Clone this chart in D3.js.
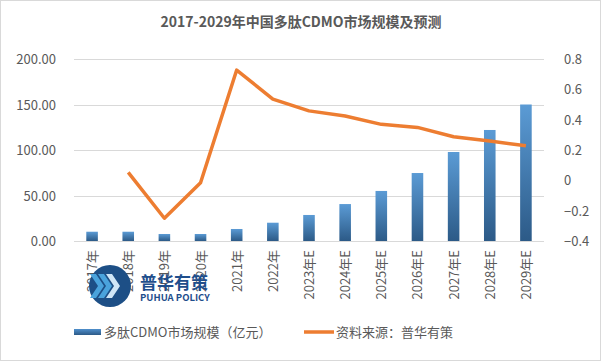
<!doctype html>
<html lang="zh">
<head>
<meta charset="UTF-8" />
<title>2017-2029年中国多肽CDMO市场规模及预测</title>
<script src="https://cdn.jsdelivr.net/npm/d3@7/dist/d3.min.js"></script>
<style>
  body { margin: 0; background: #fff; }
  text { font-family: "Noto Sans CJK SC", "Noto Sans", sans-serif; fill: #595959; }
</style>
</head>
<body>
<div id="chart"></div>
<script>
// chart data
var years = ["2017年", "2018年", "2019年", "2020年", "2021年", "2022年", "2023年E",
             "2024年E", "2025年E", "2026年E", "2027年E", "2028年E", "2029年E"];
var marketSize = [10.2, 10.2, 7.7, 7.7, 13.2, 20.1, 28.6, 40.6, 55, 74.7, 97.8, 122, 150];
var growthRate = [null, 0.053, -0.25, -0.016, 0.727, 0.536, 0.458, 0.424, 0.369, 0.349, 0.287, 0.259, 0.228];
var leftTicks = [0, 50, 100, 150, 200];
var rightTicks = [-0.4, -0.2, 0, 0.2, 0.4, 0.6, 0.8];

var width = 601, height = 361;
var margin = { top: 59, right: 57, bottom: 120, left: 74 };

var svg = d3.select("#chart").append("svg")
    .attr("width", width)
    .attr("height", height);

// outer frame
svg.append("rect")
    .attr("x", 0.5).attr("y", 0.5)
    .attr("width", width - 1).attr("height", height - 1)
    .attr("fill", "#fff").attr("stroke", "#d9d9d9");

var defs = svg.append("defs");
var grad = defs.append("linearGradient")
    .attr("id", "barGrad").attr("x1", 0).attr("y1", 0).attr("x2", 0).attr("y2", 1);
grad.append("stop").attr("offset", "0%").attr("stop-color", "#5b9bd5");
grad.append("stop").attr("offset", "100%").attr("stop-color", "#2c5a87");
var gradH = defs.append("linearGradient")
    .attr("id", "legGrad").attr("x1", 0).attr("y1", 0).attr("x2", 0).attr("y2", 1);
gradH.append("stop").attr("offset", "0%").attr("stop-color", "#4f8fcc");
gradH.append("stop").attr("offset", "100%").attr("stop-color", "#2c5a87");

var x = d3.scaleBand()
    .domain(years)
    .range([margin.left, width - margin.right])
    .paddingInner(0.68)
    .paddingOuter(0.34);

var yL = d3.scaleLinear().domain([0, 200]).range([height - margin.bottom, margin.top]);
var yR = d3.scaleLinear().domain([-0.4, 0.8]).range([height - margin.bottom, margin.top]);

// title
svg.append("text")
    .attr("x", 301).attr("y", 27)
    .attr("text-anchor", "middle")
    .style("font-size", "14px").style("font-weight", "bold")
    .text("2017-2029年中国多肽CDMO市场规模及预测");

// gridlines
svg.append("g").selectAll("line")
    .data(leftTicks)
    .enter().append("line")
    .attr("x1", margin.left).attr("x2", width - margin.right)
    .attr("y1", function(d) { return Math.round(yL(d)) + 0.5; })
    .attr("y2", function(d) { return Math.round(yL(d)) + 0.5; })
    .attr("stroke", "#d9d9d9");

// left axis
var axL = svg.append("g")
    .attr("transform", "translate(" + (margin.left - 15) + ",0)")
    .call(d3.axisLeft(yL).tickValues(leftTicks).tickSize(0).tickFormat(d3.format(".2f")));
axL.select(".domain").remove();
axL.selectAll("text").style("font-size", "13px").attr("fill", "#595959").attr("dy", "0.35em");

// right axis
var axR = svg.append("g")
    .attr("transform", "translate(" + (width - margin.right + 17) + ",0)")
    .call(d3.axisRight(yR).tickValues(rightTicks).tickSize(0).tickFormat(function(d) { return d3.format("")(+d.toFixed(1)); }));
axR.select(".domain").remove();
axR.selectAll("text").style("font-size", "13px").attr("fill", "#595959").attr("dy", "0.35em");

// bars
svg.append("g").selectAll("rect")
    .data(marketSize)
    .enter().append("rect")
    .attr("x", function(d, i) { return x(years[i]); })
    .attr("y", function(d) { return yL(d); })
    .attr("width", x.bandwidth())
    .attr("height", function(d) { return yL(0) - yL(d); })
    .attr("fill", "url(#barGrad)");

// x labels
svg.append("g").selectAll("text")
    .data(years)
    .enter().append("text")
    .attr("transform", function(d) {
      return "translate(" + (x(d) + x.bandwidth() / 2 + 5) + "," + (yL(0) + 9) + ") rotate(-90)";
    })
    .attr("text-anchor", "end")
    .style("font-size", "13px")
    .text(function(d) { return d; });

// watermark logo (sits over the first labels, as in the source image)
var logo = svg.append("g");
logo.append("circle").attr("cx", 110).attr("cy", 286).attr("r", 21).attr("fill", "#1d4f86");
[-8, 0, 8].forEach(function(o) {
  logo.append("path")
    .attr("d", "M" + (98 + o) + ",274 l8,12 l-8,12 h6 l8,-12 l-8,-12 z")
    .attr("fill", o === 8 ? "#cfe6f7" : "#4aa3dc");
});
logo.append("text").attr("x", 140).attr("y", 289)
    .style("font-size", "17px").style("font-weight", "bold")
    .style("fill", "#1f4e8c").text("普华有策");
logo.append("text").attr("x", 140).attr("y", 301)
    .style("font-size", "9.5px").style("font-weight", "bold")
    .style("fill", "#1f4e8c").text("PUHUA POLICY");

// growth line
var line = d3.line()
    .defined(function(d) { return d !== null; })
    .x(function(d, i) { return x(years[i]) + x.bandwidth() / 2; })
    .y(function(d) { return yR(d); });

svg.append("path")
    .datum(growthRate)
    .attr("d", line)
    .attr("fill", "none")
    .attr("stroke", "#ed7d31")
    .attr("stroke-width", 3.5)
    .attr("stroke-linejoin", "round");

// legend
var leg = svg.append("g");
leg.append("rect").attr("x", 74).attr("y", 329).attr("width", 27).attr("height", 6).attr("fill", "url(#legGrad)");
leg.append("text").attr("x", 104).attr("y", 337).style("font-size", "13px").text("多肽CDMO市场规模（亿元）");
leg.append("line").attr("x1", 304).attr("x2", 334).attr("y1", 332).attr("y2", 332)
    .attr("stroke", "#ed7d31").attr("stroke-width", 3.5);
leg.append("text").attr("x", 336).attr("y", 337).style("font-size", "13px").text("资料来源：普华有策");
</script>
</body>
</html>
